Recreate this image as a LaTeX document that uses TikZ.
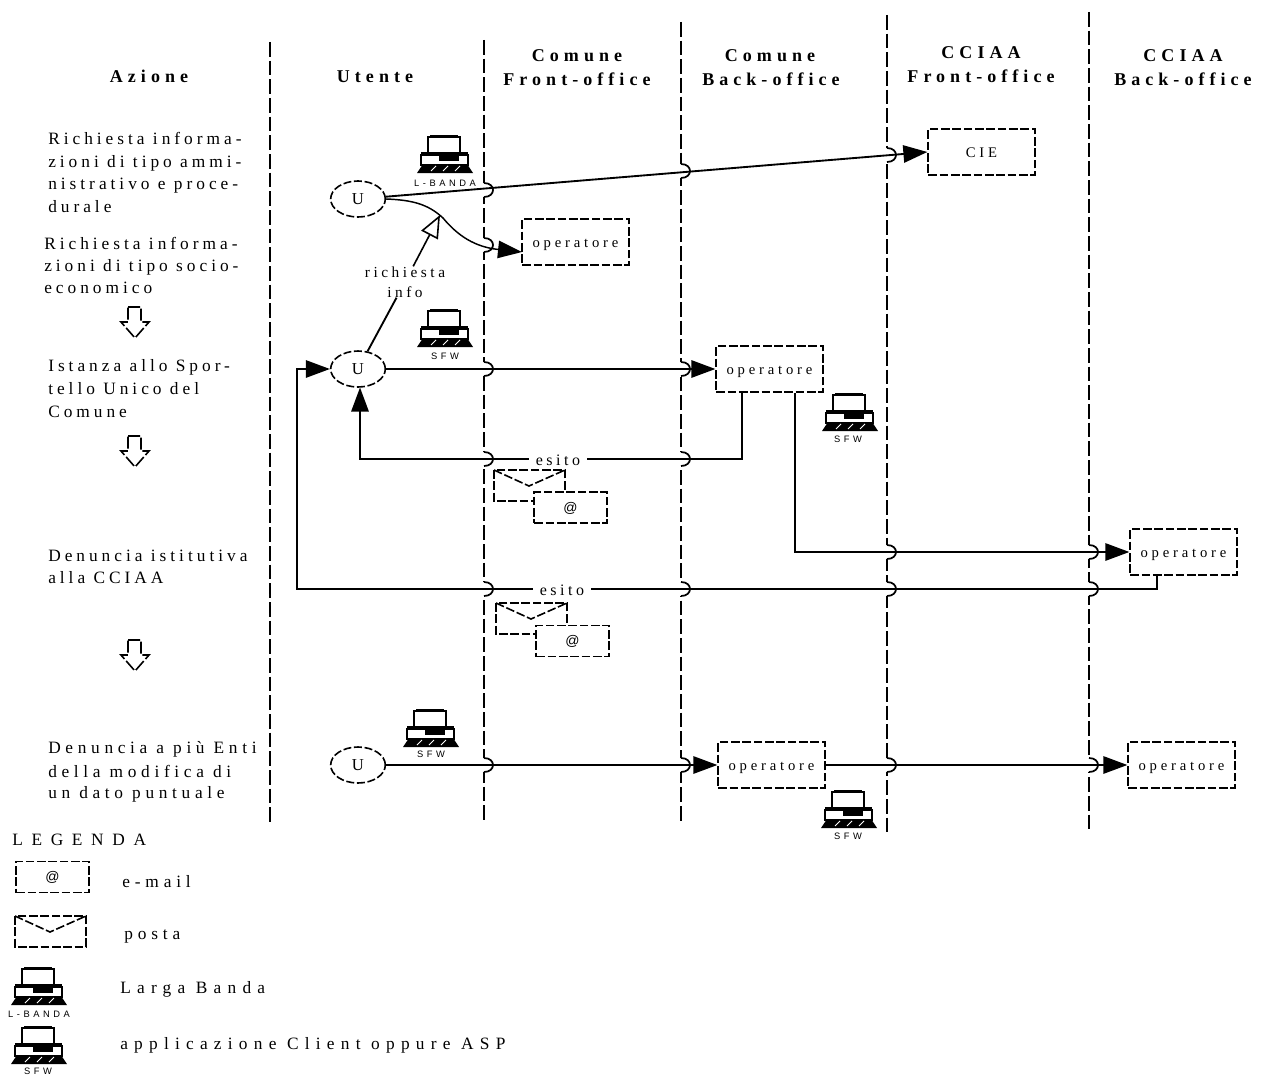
\documentclass[tikz,border=0pt]{standalone}
\usepackage{fontspec}
\usetikzlibrary{arrows.meta,shapes.geometric}
\setmainfont{Liberation Serif}
\newfontfamily\fbody[LetterSpace=23]{Liberation Serif}
\newfontfamily\fbodyw[LetterSpace=27]{Liberation Serif}
\newfontfamily\fhead[LetterSpace=28]{Liberation Serif Bold}
\newfontfamily\fleg[LetterSpace=36]{Liberation Serif}
\newfontfamily\flegs[LetterSpace=28]{Liberation Serif}
\newfontfamily\flegt[LetterSpace=50]{Liberation Serif}
\newfontfamily\fop[LetterSpace=26]{Liberation Serif}
\newfontfamily\fes[LetterSpace=22]{Liberation Serif}
\newfontfamily\finfo[LetterSpace=23]{Liberation Serif}
\newfontfamily\ficon[LetterSpace=38]{Liberation Sans}
\newfontfamily\fat{Liberation Sans}
\newcommand\hopmark[2]{%
  \fill[white] (#1-3,#2-7) rectangle (#1+3,#2+7);
  \draw[hopline] (#1,#2-7) .. controls (#1+12,#2-7) and (#1+12,#2+7) .. (#1,#2+7);}
\tikzset{
  x=0.75pt,y=-0.75pt,
  lane/.style={line width=1.3pt,dash pattern=on 11pt off 3pt},
  hopline/.style={line width=1.3pt},
  conn/.style={line width=1.4pt},
  head/.style={-{Triangle[length=18pt,width=13pt]}},
  opentip/.style={-{Triangle[length=17pt,width=14pt,fill=white]}},
  dbox/.style={draw,line width=1.2pt,dash pattern=on 6.5pt off 2pt,fill=white,inner sep=0pt,rectangle},
  boxop/.style={dbox,minimum width=80pt,minimum height=34.5pt,text height=9pt,text depth=1.5pt,font=\fop\fontsize{11}{13}\selectfont},
  atbox/.style={dbox,minimum width=54.5pt,minimum height=23.5pt,text height=9pt,text depth=2pt,font=\fat\fontsize{10.5}{12}\selectfont},
  uell/.style={ellipse,draw,line width=1.2pt,dash pattern=on 6pt off 2pt,fill=white,inner sep=0pt,minimum width=41pt,minimum height=27pt,font=\fontsize{12.5}{14}\selectfont},
  txt/.style={anchor=base west,inner sep=0pt,font=\fbody\fontsize{13}{15}\selectfont},
  legt/.style={anchor=base west,inner sep=0pt,font=\fleg\fontsize{13}{15}\selectfont},
  legs/.style={anchor=base west,inner sep=0pt,font=\flegs\fontsize{13}{15}\selectfont},
  hd/.style={anchor=base,inner sep=0pt,font=\fhead\fontsize{13.5}{15}\selectfont},
  lab/.style={fill=white,inner xsep=5pt,inner ysep=1pt,font=\fes\fontsize{12}{14}\selectfont},
  iconlab/.style={anchor=base,inner sep=0pt,font=\ficon\fontsize{7}{8}\selectfont},
  pics/comp/.style={code={
    \fill (13,0) rectangle (41,2.5);
    \draw[line width=1.8pt] (11,2) rectangle (43,18);
    \fill[white] (4,19) rectangle (51,30);
    \draw[line width=1.6pt] (4,20) rectangle (51,30);
    \draw[line width=2.4pt] (4,19) -- (51,19);
    \fill (22,21) rectangle (42,26);
    \fill (0,38) -- (56,38) -- (50,29) -- (6,29) -- cycle;
    \draw[white,line width=.7pt] (14,36) -- (19,31) (26,36) -- (31,31) (38,36) -- (43,31);
  }},
  pics/blockarrow/.style={code={
    \draw[line width=1.2pt,dash pattern=on 9pt off 2pt] (-7,0) -- (6,0) -- (6,15) -- (14,15) -- (0,31) -- (-14,15) -- (-7,15) -- cycle;
  }},
  pics/envelope/.style={code={
    \draw[line width=1.2pt,dash pattern=on 6.5pt off 2pt] (0,0) rectangle (71,31);
    \draw[line width=1.2pt,dash pattern=on 6.5pt off 2pt] (0,0) -- (35,16) -- (71,0);
  }}
}
\begin{document}
\begin{tikzpicture}
\useasboundingbox (0,0) rectangle (1277,1074);
% lanes
\coordinate (l1a) at (270,42); \coordinate (l1b) at (270,824);
\coordinate (l2a) at (484,40); \coordinate (l2b) at (484,824);
\coordinate (l3a) at (681,22); \coordinate (l3b) at (681,824);
\coordinate (l4a) at (887,15); \coordinate (l4b) at (887,832);
\coordinate (l5a) at (1089,12); \coordinate (l5b) at (1089,830);
\draw[lane] (l1a) -- (l1b);
\draw[lane] (l2a) -- (l2b);
\draw[lane] (l3a) -- (l3b);
\draw[lane] (l4a) -- (l4b);
\draw[lane] (l5a) -- (l5b);
% hops
\hopmark{484}{190}\hopmark{681}{171}\hopmark{887}{155}
\hopmark{484}{245}
\hopmark{484}{369}\hopmark{681}{369}
\hopmark{484}{459}\hopmark{681}{459}
\hopmark{887}{552}\hopmark{1089}{552}
\hopmark{484}{589}\hopmark{681}{589}\hopmark{887}{589}\hopmark{1089}{589}
\hopmark{484}{765}\hopmark{681}{765}\hopmark{887}{765}\hopmark{1089}{765}
% headers
\node[hd] (hA) at (149,83) {Azione};
\node[hd] (hU) at (375,83) {Utente};
\node[hd] (hC1) at (577,61) {Comune};
\node[hd] (hC1b) at (577,85) {Front-office};
\node[hd] (hC2) at (770,61) {Comune};
\node[hd] (hC2b) at (771,85) {Back-office};
\node[hd] (hD1) at (981,59) {CCIAA};
\node[hd] (hD1b) at (981,83) {Front-office};
\node[hd] (hD2) at (1183,61) {CCIAA};
\node[hd] (hD2b) at (1183,85) {Back-office};
% left texts
\node[txt] (a1) at (48,144) {Richiesta informa-};
\node[txt] (a2) at (48,167) {zioni di tipo ammi-};
\node[txt] (a3) at (48,189) {nistrativo e proce-};
\node[txt] (a4) at (48,212) {durale};
\node[txt] (b1) at (44,249) {Richiesta informa-};
\node[txt] (b2) at (44,271) {zioni di tipo socio-};
\node[txt] (b3) at (44,293) {economico};
\node[txt] (c1) at (48,371) {Istanza allo Spor-};
\node[txt] (c2) at (48,394) {tello Unico del};
\node[txt] (c3) at (48,417) {Comune};
\node[txt] (d1) at (48,561) {Denuncia istitutiva};
\node[txt] (d2) at (48,583) {alla CCIAA};
\node[txt,font=\fbodyw\fontsize{13}{15}\selectfont] (e1) at (48,753) {Denuncia a più Enti};
\node[txt,font=\fbodyw\fontsize{13}{15}\selectfont] (e2) at (48,777) {della modifica di};
\node[txt,font=\fbodyw\fontsize{13}{15}\selectfont] (e3) at (48,798) {un dato puntuale};
% block arrows
\pic at (135,307) {blockarrow};
\pic at (135,436) {blockarrow};
\pic at (135,640) {blockarrow};
% nodes
\node[uell] (U1) at (358,199) {U};
\node[uell] (U2) at (358,369) {U};
\node[uell] (U3) at (358,765) {U};
\node[boxop] (cie) at (981.5,152) {CIE};
\node[boxop] (op1) at (575.5,242) {operatore};
\node[boxop] (op2) at (769.5,369) {operatore};
\node[boxop] (op3) at (1183.5,552) {operatore};
\node[boxop] (op4) at (771.5,765) {operatore};
\node[boxop] (op5) at (1181.5,765) {operatore};
\node[inner sep=0pt,align=center,font=\finfo\fontsize{11.5}{15}\selectfont] (info) at (405,282) {richiesta\\info};
% connectors
\coordinate (op1in) at (522,252);
\coordinate (optip) at (440,215);
\coordinate (m1) at (443,218);
\coordinate (o2a) at (742,393); \coordinate (o2b) at (742,459);
\coordinate (o2c) at (360,459); \coordinate (U2s) at (360,387.5);
\coordinate (o3a) at (795,393); \coordinate (o3b) at (795,552);
\coordinate (o4a) at (1157,575); \coordinate (o4b) at (1157,589);
\coordinate (o4c) at (297,589); \coordinate (o4d) at (297,369);
\draw[conn,head] (U1) -- (cie.west);
\draw[line width=1.1pt,head] (U1.east) .. controls (412,200) and (428,204) .. (m1) .. controls (458,236) and (475,247) .. (op1in);
\draw[conn] (U2) -- (info);
\draw[line width=1.2pt,opentip] (info) -- (optip);
\draw[conn,head] (U2) -- (op2.west);
\draw[conn,head] (o2a) -- (o2b) -- (o2c) -- (U2s);
\draw[conn,head] (o3a) -- (o3b) -- (op3.west);
\draw[conn,head] (o4a) -- (o4b) -- (o4c) -- (o4d) -- (U2.west);
\draw[conn,head] (U3) -- (op4.west);
\draw[conn,head] (op4.east) -- (op5.west);
\node[lab] (es1) at (558,460) {esito};
\node[lab] (es2) at (562,590) {esito};
% envelopes and @
\pic at (494,470) {envelope};
\node[atbox] (at1) at (570.5,507.5) {@};
\pic at (496,603) {envelope};
\node[atbox] (at2) at (572.5,641) {@};
% icons
\pic at (417,135) {comp}; \node[iconlab] (i1) at (445,186) {L-BANDA};
\pic at (417,309) {comp}; \node[iconlab] (i2) at (445,359) {SFW};
\pic at (822,393) {comp}; \node[iconlab] (i3) at (848,442) {SFW};
\pic at (403,709) {comp}; \node[iconlab] (i4) at (431,757) {SFW};
\pic at (821,790) {comp}; \node[iconlab] (i5) at (848,839) {SFW};
\pic at (11,967) {comp}; \node[iconlab] (i6) at (39,1017) {L-BANDA};
\pic at (11,1026) {comp}; \node[iconlab] (i7) at (38,1074) {SFW};
% legend
\node[anchor=base west,inner sep=0pt,font=\flegt\fontsize{13}{15}\selectfont] (lg) at (12,845) {LEGENDA};
\node[atbox] (lat) at (52.5,877) {@};
\pic at (15,916) {envelope};
\node[legs] (l1) at (122,887) {e-mail};
\node[legs] (l2) at (124,939) {posta};
\node[legt] (l3) at (120,993) {Larga Banda};
\node[legt] (l4) at (120,1049) {applicazione Client oppure ASP};
\end{tikzpicture}
\end{document}
